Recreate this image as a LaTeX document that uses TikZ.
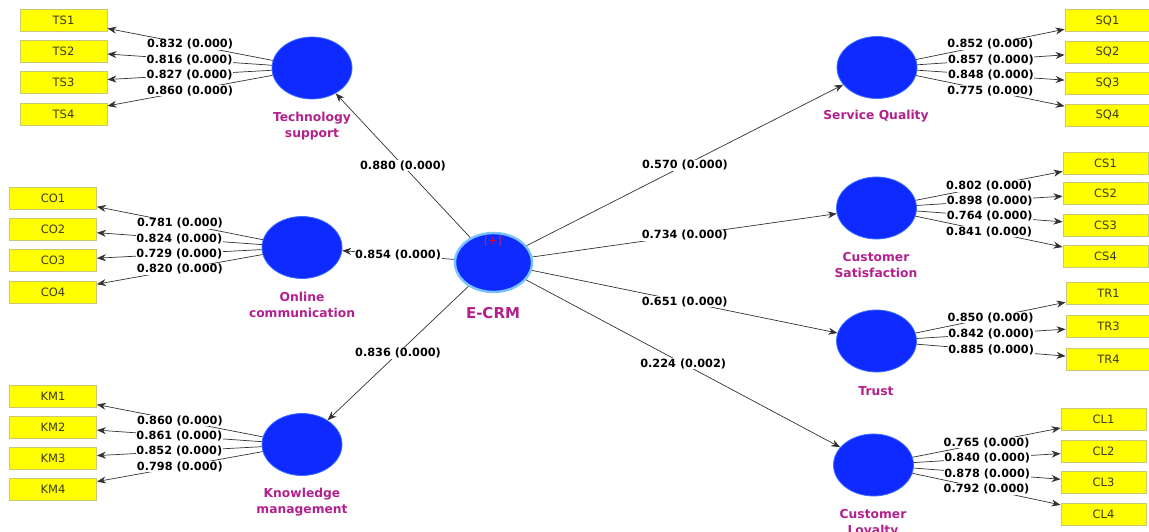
\documentclass[tikz,border=0pt]{standalone}
\usepackage{fontspec}
\setmainfont{DejaVu Sans}
\usetikzlibrary{shapes.geometric,arrows.meta}
\definecolor{lvblue}{RGB}{14,42,255}
\definecolor{lvedge}{RGB}{60,110,255}
\definecolor{ecrmedge}{RGB}{120,195,255}
\definecolor{indyellow}{RGB}{255,255,0}
\definecolor{indedge}{RGB}{200,200,120}
\definecolor{indtext}{RGB}{60,60,30}
\definecolor{lvpurple}{RGB}{178,32,140}
\definecolor{brk}{RGB}{160,40,150}
\definecolor{linegray}{RGB}{50,50,50}
\begin{document}
\begin{tikzpicture}[x=1pt,y=-1pt,
  lv/.style={ellipse, fill=lvblue, draw=lvedge, line width=0.8pt, minimum width=80pt, minimum height=62pt, inner sep=0pt},
  ecrmstyle/.style={lv, draw=ecrmedge, line width=2.4pt, minimum width=77pt, minimum height=59pt},
  ind/.style={rectangle, fill=indyellow, draw=indedge, line width=0.9pt, minimum width=87pt, minimum height=22pt, inner sep=0pt, font=\fontsize{11.5}{13}\selectfont, text=indtext},
  rind/.style={ind, minimum width=85pt},
  lvname/.style={font=\bfseries\fontsize{12.3}{16}\selectfont, text=lvpurple, align=center},
  coef/.style={font=\bfseries\fontsize{11.3}{12}\selectfont, fill=white, inner sep=0.6pt, text=black},
  conn/.style={draw=linegray, line width=0.7pt, -{Stealth[length=9pt,width=7pt]}}
]
\useasboundingbox (0,0) rectangle (1149,532);

% latent variables
\node[lv] (ts) at (312,68) {};
\node[lvname] (tsl) at (312,126) {Technology\\support};
\node[lv] (oc) at (302,247.5) {};
\node[lvname] (ocl) at (302,305) {Online\\communication};
\node[lv] (km) at (302,444.5) {};
\node[lvname] (kml) at (302,502) {Knowledge\\management};
\node[ecrmstyle] (ecrm) at (493.5,262.5) {};
\node[font=\fontsize{11}{12}\selectfont] (plus) at (493,241) {\textcolor{brk}{[}\textcolor{red}{+}\textcolor{brk}{]}};
\node[lvname, font=\bfseries\fontsize{15}{18}\selectfont] (ecrml) at (493,313) {E-CRM};
\node[lv] (sq) at (877,67.5) {};
\node[lvname] (sql) at (876,116) {Service Quality};
\node[lv] (cs) at (876.5,208) {};
\node[lvname] (csl) at (876,265) {Customer\\Satisfaction};
\node[lv] (tr) at (876.5,341) {};
\node[lvname] (trl) at (876,391) {Trust};
\node[lv] (cl) at (873.5,465) {};
\node[lvname] (cll) at (873,523) {Customer\\Loyalty};

% indicators left
\node[ind] (ts1) at (63.5,20) {TS1};
\node[ind] (ts2) at (63.5,51) {TS2};
\node[ind] (ts3) at (63.5,82) {TS3};
\node[ind] (ts4) at (63.5,114) {TS4};
\node[ind] (co1) at (53,198) {CO1};
\node[ind] (co2) at (53,229.5) {CO2};
\node[ind] (co3) at (53,260.5) {CO3};
\node[ind] (co4) at (53,292) {CO4};
\node[ind] (km1) at (53,396) {KM1};
\node[ind] (km2) at (53,427) {KM2};
\node[ind] (km3) at (53,458) {KM3};
\node[ind] (km4) at (53,489.5) {KM4};
% indicators right
\node[rind] (sq1) at (1107.5,20.5) {SQ1};
\node[rind] (sq2) at (1107.5,52) {SQ2};
\node[rind] (sq3) at (1107.5,83) {SQ3};
\node[rind] (sq4) at (1107.5,115) {SQ4};
\node[rind] (cs1) at (1105.5,163) {CS1};
\node[rind] (cs2) at (1105.5,193.5) {CS2};
\node[rind] (cs3) at (1105.5,225) {CS3};
\node[rind] (cs4) at (1105.5,256) {CS4};
\node[rind] (tr1) at (1108.5,293.5) {TR1};
\node[rind] (tr3) at (1108.5,326.5) {TR3};
\node[rind] (tr4) at (1108.5,359.5) {TR4};
\node[rind] (cl1) at (1103.5,419.5) {CL1};
\node[rind] (cl2) at (1103.5,451) {CL2};
\node[rind] (cl3) at (1103.5,482.5) {CL3};
\node[rind] (cl4) at (1103.5,514) {CL4};

% structural paths
\draw[conn] (ecrm) -- (ts) node[coef,midway] {0.880 (0.000)};
\draw[conn] (ecrm) -- (oc) node[coef,midway] {0.854 (0.000)};
\draw[conn] (ecrm) -- (km) node[coef,midway] {0.836 (0.000)};
\draw[conn] (ecrm) -- (sq) node[coef,midway] {0.570 (0.000)};
\draw[conn] (ecrm) -- (cs) node[coef,midway] {0.734 (0.000)};
\draw[conn] (ecrm) -- (tr) node[coef,midway] {0.651 (0.000)};
\draw[conn] (ecrm) -- (cl) node[coef,midway] {0.224 (0.002)};

% outer loadings
\draw[conn] (ts) -- (ts1) node[coef,midway] {0.832 (0.000)};
\draw[conn] (ts) -- (ts2) node[coef,midway] {0.816 (0.000)};
\draw[conn] (ts) -- (ts3) node[coef,midway] {0.827 (0.000)};
\draw[conn] (ts) -- (ts4) node[coef,midway] {0.860 (0.000)};
\draw[conn] (oc) -- (co1) node[coef,midway] {0.781 (0.000)};
\draw[conn] (oc) -- (co2) node[coef,midway] {0.824 (0.000)};
\draw[conn] (oc) -- (co3) node[coef,midway] {0.729 (0.000)};
\draw[conn] (oc) -- (co4) node[coef,midway] {0.820 (0.000)};
\draw[conn] (km) -- (km1) node[coef,midway] {0.860 (0.000)};
\draw[conn] (km) -- (km2) node[coef,midway] {0.861 (0.000)};
\draw[conn] (km) -- (km3) node[coef,midway] {0.852 (0.000)};
\draw[conn] (km) -- (km4) node[coef,midway] {0.798 (0.000)};
\draw[conn] (sq) -- (sq1) node[coef,midway] {0.852 (0.000)};
\draw[conn] (sq) -- (sq2) node[coef,midway] {0.857 (0.000)};
\draw[conn] (sq) -- (sq3) node[coef,midway] {0.848 (0.000)};
\draw[conn] (sq) -- (sq4) node[coef,midway] {0.775 (0.000)};
\draw[conn] (cs) -- (cs1) node[coef,midway] {0.802 (0.000)};
\draw[conn] (cs) -- (cs2) node[coef,midway] {0.898 (0.000)};
\draw[conn] (cs) -- (cs3) node[coef,midway] {0.764 (0.000)};
\draw[conn] (cs) -- (cs4) node[coef,midway] {0.841 (0.000)};
\draw[conn] (tr) -- (tr1) node[coef,midway] {0.850 (0.000)};
\draw[conn] (tr) -- (tr3) node[coef,midway] {0.842 (0.000)};
\draw[conn] (tr) -- (tr4) node[coef,midway] {0.885 (0.000)};
\draw[conn] (cl) -- (cl1) node[coef,midway] {0.765 (0.000)};
\draw[conn] (cl) -- (cl2) node[coef,midway] {0.840 (0.000)};
\draw[conn] (cl) -- (cl3) node[coef,midway] {0.878 (0.000)};
\draw[conn] (cl) -- (cl4) node[coef,midway] {0.792 (0.000)};
\end{tikzpicture}
\end{document}
